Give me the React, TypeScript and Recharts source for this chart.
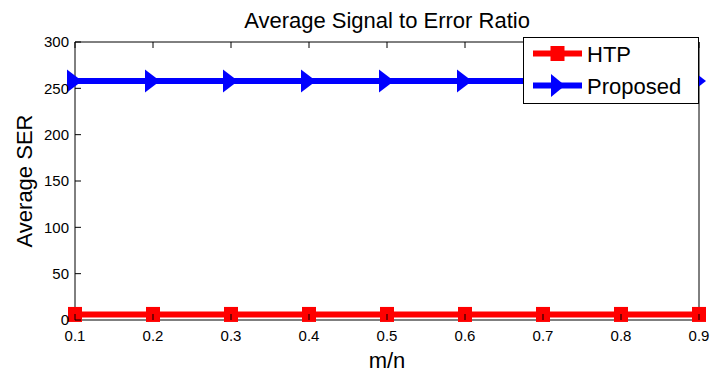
import React from 'react';
import { LineChart, Line, XAxis, YAxis, Legend, Label } from 'recharts';

const mnValues = [0.1, 0.2, 0.3, 0.4, 0.5, 0.6, 0.7, 0.8, 0.9];
const htpSER = [6, 6, 6, 6, 6, 6, 6, 6, 6];
const proposedSER = [258, 258, 258, 258, 258, 258, 258, 258, 258];
const xTicks = [0.1, 0.2, 0.3, 0.4, 0.5, 0.6, 0.7, 0.8, 0.9];
const yTicks = [0, 50, 100, 150, 200, 250, 300];
const seriesNames = ['HTP', 'Proposed'];
const chartTitle = 'Average Signal to Error Ratio';
const xLabel = 'm/n';
const yLabel = 'Average SER';

const data = mnValues.map((mn, i) => ({ mn, htp: htpSER[i], proposed: proposedSER[i] }));

const FONT = '"Liberation Sans", Arial, Helvetica, sans-serif';
const RED = '#FF0000';
const BLUE = '#0000FF';

const BottomTick = (p: any) => (
  <g>
    <line x1={p.x} y1={p.y} x2={p.x} y2={p.y - 6} stroke="#000" strokeWidth={1} />
    <text x={p.x} y={p.y + 21} textAnchor="middle" fontSize={15} fontFamily={FONT} fill="#000">
      {String(p.payload.value)}
    </text>
  </g>
);

const TopTick = (p: any) => (
  <line x1={p.x} y1={p.y} x2={p.x} y2={p.y + 6} stroke="#000" strokeWidth={1} />
);

const LeftTick = (p: any) => (
  <g>
    <line x1={p.x} y1={p.y} x2={p.x + 6} y2={p.y} stroke="#000" strokeWidth={1} />
    <text x={p.x - 6} y={p.y} dy="0.36em" textAnchor="end" fontSize={15} fontFamily={FONT} fill="#000">
      {String(p.payload.value)}
    </text>
  </g>
);

const RightTick = (p: any) => (
  <line x1={p.x} y1={p.y} x2={p.x - 6} y2={p.y} stroke="#000" strokeWidth={1} />
);

const SquareDot = (p: any) => (
  <rect key={`sq-${p.index}`} x={p.cx - 7} y={p.cy - 7.5} width={14} height={15} fill={RED} />
);

const TriDot = (p: any) => (
  <polygon
    key={`tri-${p.index}`}
    points={`${p.cx - 8},${p.cy - 11.5} ${p.cx + 7},${p.cy} ${p.cx - 8},${p.cy + 11.5}`}
    fill={BLUE}
  />
);

const LegendBox = (props: any) => {
  const payload = (props.payload || []) as any[];
  return (
    <svg width={176} height={67} style={{ display: 'block' }}>
      <rect x={0.5} y={0.5} width={175} height={66} fill="#fff" stroke="#000" strokeWidth={1} />
      {payload.map((entry: any, i: number) => {
        const cy = 16.5 + i * 32;
        const color = entry.color;
        return (
          <g key={i}>
            <line x1={10} y1={cy} x2={59} y2={cy} stroke={color} strokeWidth={6} />
            {i === 0 ? (
              <rect x={27.5} y={cy - 7.5} width={14} height={15} fill={color} />
            ) : (
              <polygon points={`${28},${cy - 11.5} ${42},${cy} ${28},${cy + 11.5}`} fill={color} />
            )}
            <text x={64} y={cy + 8.5} fontSize={22} fontFamily={FONT} fill="#000">
              {entry.value}
            </text>
          </g>
        );
      })}
    </svg>
  );
};

export default function App() {
  return (
    <div style={{ position: 'absolute', left: 0, top: 0, width: 712, height: 373, background: '#fff' }}>
      <LineChart width={712} height={373} data={data} margin={{ top: 41, right: 12, bottom: 0, left: 0 }}>
        <XAxis
          dataKey="mn"
          type="number"
          domain={[0.1, 0.9]}
          ticks={xTicks}
          height={53}
          tickSize={0}
          tickMargin={0}
          tickLine={false}
          axisLine={{ stroke: '#000', strokeWidth: 1 }}
          tick={BottomTick}
          interval={0}
        >
          <Label
            content={(lp: any) => {
              const vb = lp.viewBox || {};
              return (
                <text x={vb.x + vb.width / 2} y={vb.y + 48} textAnchor="middle" fontSize={22} fontFamily={FONT} fill="#000">
                  {xLabel}
                </text>
              );
            }}
          />
        </XAxis>
        <XAxis
          xAxisId="top"
          dataKey="mn"
          type="number"
          orientation="top"
          domain={[0.1, 0.9]}
          ticks={xTicks}
          height={1}
          tickSize={0}
          tickMargin={0}
          tickLine={false}
          axisLine={{ stroke: '#000', strokeWidth: 1 }}
          tick={TopTick}
          interval={0}
        >
          <Label
            content={(lp: any) => {
              const vb = lp.viewBox || {};
              return (
                <text x={vb.x + vb.width / 2} y={vb.y + vb.height - 14} textAnchor="middle" fontSize={22} fontFamily={FONT} fill="#000">
                  {chartTitle}
                </text>
              );
            }}
          />
        </XAxis>
        <YAxis
          type="number"
          domain={[0, 300]}
          ticks={yTicks}
          width={75}
          tickSize={0}
          tickMargin={0}
          tickLine={false}
          axisLine={{ stroke: '#000', strokeWidth: 1 }}
          tick={LeftTick}
          interval={0}
        >
          <Label
            content={(lp: any) => {
              const vb = lp.viewBox || {};
              const cx = vb.x + 32;
              const cy = vb.y + vb.height / 2;
              return (
                <text
                  x={cx}
                  y={cy}
                  transform={`rotate(-90, ${cx}, ${cy})`}
                  textAnchor="middle"
                  fontSize={22}
                  fontFamily={FONT}
                  fill="#000"
                >
                  {yLabel}
                </text>
              );
            }}
          />
        </YAxis>
        <YAxis
          yAxisId="right"
          orientation="right"
          type="number"
          domain={[0, 300]}
          ticks={yTicks}
          width={1}
          tickSize={0}
          tickMargin={0}
          tickLine={false}
          axisLine={{ stroke: '#000', strokeWidth: 1 }}
          tick={RightTick}
          interval={0}
        />
        <Legend
          layout="vertical"
          align="center"
          verticalAlign="middle"
          content={LegendBox}
          wrapperStyle={{ position: 'absolute', left: 523, top: 37, width: 176, height: 67 }}
        />
        <Line
          dataKey="htp"
          name={seriesNames[0]}
          stroke={RED}
          strokeWidth={6}
          dot={SquareDot}
          activeDot={false}
          isAnimationActive={false}
        />
        <Line
          dataKey="proposed"
          name={seriesNames[1]}
          stroke={BLUE}
          strokeWidth={6}
          dot={TriDot}
          activeDot={false}
          isAnimationActive={false}
        />
      </LineChart>
    </div>
  );
}
